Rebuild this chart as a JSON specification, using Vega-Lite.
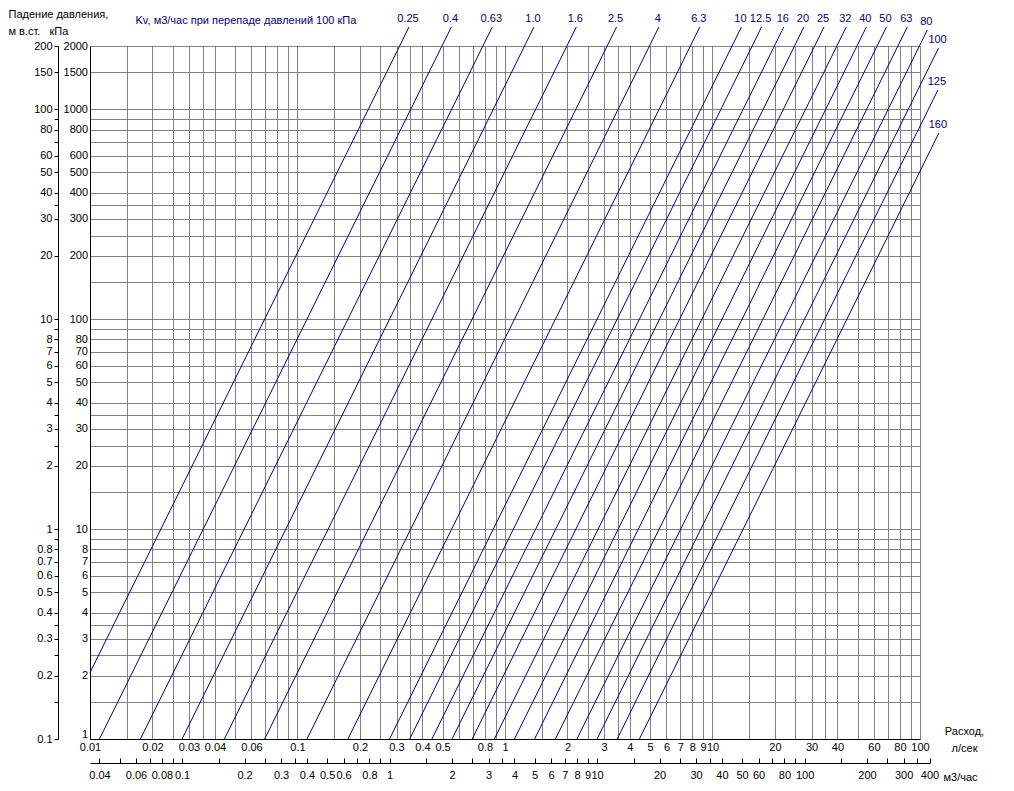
{
  "$schema": "https://vega.github.io/schema/vega-lite/v6.json",
  "width": 830,
  "height": 693,
  "autosize": {"type": "none"},
  "padding": {"left": 90, "top": 46, "right": 94, "bottom": 52},
  "background": "white",
  "config": {
    "view": {"stroke": null},
    "font": "Liberation Sans",
    "axis": {"labelFont": "Liberation Sans", "titleFont": "Liberation Sans", "labelFontSize": 11, "titleFontSize": 11, "titleFontWeight": "normal", "labelColor": "#000000", "titleColor": "#000000"}
  },
  "datasets": {
    "lines": [
      {"kv": "0.25", "q": 0.01, "dp": 2.0736}, {"kv": "0.25", "q": 0.34472, "dp": 2464},
      {"kv": "0.4", "q": 0.011111, "dp": 1}, {"kv": "0.4", "q": 0.55154, "dp": 2464},
      {"kv": "0.63", "q": 0.0175, "dp": 1}, {"kv": "0.63", "q": 0.86868, "dp": 2464},
      {"kv": "1.0", "q": 0.027778, "dp": 1}, {"kv": "1.0", "q": 1.3789, "dp": 2464},
      {"kv": "1.6", "q": 0.044444, "dp": 1}, {"kv": "1.6", "q": 2.2062, "dp": 2464},
      {"kv": "2.5", "q": 0.069444, "dp": 1}, {"kv": "2.5", "q": 3.4472, "dp": 2464},
      {"kv": "4", "q": 0.11111, "dp": 1}, {"kv": "4", "q": 5.5154, "dp": 2464},
      {"kv": "6.3", "q": 0.175, "dp": 1}, {"kv": "6.3", "q": 8.6868, "dp": 2464},
      {"kv": "10", "q": 0.27778, "dp": 1}, {"kv": "10", "q": 13.789, "dp": 2464},
      {"kv": "12.5", "q": 0.34722, "dp": 1}, {"kv": "12.5", "q": 17.236, "dp": 2464},
      {"kv": "16", "q": 0.44444, "dp": 1}, {"kv": "16", "q": 22.062, "dp": 2464},
      {"kv": "20", "q": 0.55556, "dp": 1}, {"kv": "20", "q": 27.577, "dp": 2464},
      {"kv": "25", "q": 0.69444, "dp": 1}, {"kv": "25", "q": 34.472, "dp": 2464},
      {"kv": "32", "q": 0.88889, "dp": 1}, {"kv": "32", "q": 44.124, "dp": 2464},
      {"kv": "40", "q": 1.1111, "dp": 1}, {"kv": "40", "q": 55.154, "dp": 2464},
      {"kv": "50", "q": 1.3889, "dp": 1}, {"kv": "50", "q": 68.943, "dp": 2464},
      {"kv": "63", "q": 1.75, "dp": 1}, {"kv": "63", "q": 86.868, "dp": 2464},
      {"kv": "80", "q": 2.2222, "dp": 1}, {"kv": "80", "q": 108.5, "dp": 2384},
      {"kv": "100", "q": 2.7778, "dp": 1}, {"kv": "100", "q": 122.87, "dp": 1956.6},
      {"kv": "125", "q": 3.4722, "dp": 1}, {"kv": "125", "q": 122.0, "dp": 1234.4},
      {"kv": "160", "q": 4.4444, "dp": 1}, {"kv": "160", "q": 123.34, "dp": 770.2}
    ],
    "labels": [
      {"kv": "0.25", "q": 0.34472, "dp": 2464},
      {"kv": "0.4", "q": 0.55154, "dp": 2464},
      {"kv": "0.63", "q": 0.86868, "dp": 2464},
      {"kv": "1.0", "q": 1.3789, "dp": 2464},
      {"kv": "1.6", "q": 2.2062, "dp": 2464},
      {"kv": "2.5", "q": 3.4472, "dp": 2464},
      {"kv": "4", "q": 5.5154, "dp": 2464},
      {"kv": "6.3", "q": 8.6868, "dp": 2464},
      {"kv": "10", "q": 13.789, "dp": 2464},
      {"kv": "12.5", "q": 17.236, "dp": 2464},
      {"kv": "16", "q": 22.062, "dp": 2464},
      {"kv": "20", "q": 27.577, "dp": 2464},
      {"kv": "25", "q": 34.472, "dp": 2464},
      {"kv": "32", "q": 44.124, "dp": 2464},
      {"kv": "40", "q": 55.154, "dp": 2464},
      {"kv": "50", "q": 68.943, "dp": 2464},
      {"kv": "63", "q": 86.868, "dp": 2464},
      {"kv": "80", "q": 108.5, "dp": 2384},
      {"kv": "100", "q": 122.87, "dp": 1956.6},
      {"kv": "125", "q": 122.0, "dp": 1234.4},
      {"kv": "160", "q": 123.34, "dp": 770.2}
    ],
    "m3h": [{"m3h": 0.036}, {"m3h": 400}]
  },
  "layer": [
    {
      "data": {"name": "lines"},
      "mark": {"type": "line", "color": "#000080", "strokeWidth": 1, "clip": false},
      "encoding": {
        "x": {
          "field": "q", "type": "quantitative",
          "scale": {"type": "log", "domain": [0.01, 100], "nice": false},
          "axis": {
            "orient": "bottom",
            "values": [0.01,0.015,0.02,0.025,0.03,0.035,0.04,0.05,0.06,0.07,0.08,0.09,0.1,0.15,0.2,0.25,0.3,0.35,0.4,0.5,0.6,0.7,0.8,0.9,1,1.5,2,2.5,3,3.5,4,5,6,7,8,9,10,15,20,25,30,35,40,50,60,70,80,90,100],
            "grid": true, "gridColor": "#808080", "gridWidth": 1, "gridOpacity": 1,
            "ticks": false, "domain": true, "domainColor": "#000000", "domainWidth": 1,
            "labelExpr": "indexof([0.01,0.02,0.03,0.04,0.06,0.1,0.2,0.3,0.4,0.5,0.8,1,2,3,4,5,6,7,8,9,10,20,30,40,60,80,100], datum.value) >= 0 ? format(datum.value, '~g') : ''",
            "labelPadding": 2, "labelOverlap": false, "labelFlush": false, "labelBound": false,
            "title": ["Расход,", "л/сек"], "titleX": 874, "titleY": -14, "titleAlign": "center", "titleBaseline": "top", "titleAngle": 0, "titleLineHeight": 17
          }
        },
        "y": {
          "field": "dp", "type": "quantitative",
          "scale": {"type": "log", "domain": [1, 2000], "nice": false},
          "axis": {
            "orient": "left",
            "values": [1,1.5,2,2.5,3,3.5,4,5,6,7,8,9,10,15,20,25,30,35,40,50,60,70,80,90,100,150,200,250,300,350,400,500,600,700,800,900,1000,1500,2000],
            "grid": true, "gridColor": "#808080", "gridWidth": 1, "gridOpacity": 1,
            "ticks": false, "domain": true, "domainColor": "#000000", "domainWidth": 1,
            "labelExpr": "indexof([1,2,3,4,5,6,7,8,10,20,30,40,50,60,70,80,100,200,300,400,500,600,800,1000,1500,2000], datum.value) >= 0 ? format(datum.value, '~g') : ''",
            "labelBaseline": {"condition": {"test": "datum.value == 1", "value": "bottom"}, "value": "middle"},
            "labelPadding": 2.5, "labelOverlap": false, "labelFlush": false, "labelBound": false,
            "title": ["Падение давления,", "\u00a0\u00a0\u00a0\u00a0\u00a0м в.ст.\u00a0\u00a0\u00a0кПа"], "titleX": -82, "titleY": -38, "titleAlign": "left", "titleBaseline": "top", "titleAngle": 0, "titleLineHeight": 17
          }
        },
        "detail": {"field": "kv", "type": "nominal"}
      }
    },
    {
      "data": {"name": "labels"},
      "mark": {"type": "text", "color": "#000080", "fontSize": 11, "font": "Liberation Sans", "align": "center", "baseline": "middle", "dy": -8, "dx": -1, "clip": false},
      "encoding": {
        "x": {
          "field": "q", "type": "quantitative",
          "scale": {"type": "log", "domain": [0.01, 100], "nice": false},
          "axis": {
            "orient": "top", "labels": false, "ticks": false, "domain": false, "grid": false,
            "title": "Kv, м3/час при перепаде давлений 100 кПа", "titleX": 45, "titleY": -26, "titleAlign": "left", "titleBaseline": "middle", "titleAngle": 0, "titleColor": "#000080"
          }
        },
        "y": {
          "field": "dp", "type": "quantitative",
          "scale": {"type": "log", "domain": [1, 2000], "nice": false},
          "axis": {
            "orient": "left", "offset": 32,
            "values": [1,1.5,2,2.5,3,3.5,4,5,6,7,8,9,10,20,25,30,35,40,50,60,70,80,90,100,200,300,350,400,500,600,700,800,900,1000,1500,2000],
            "grid": false, "ticks": true, "tickSize": 4, "tickColor": "#000000", "tickWidth": 1,
            "domain": true, "domainColor": "#000000", "domainWidth": 1,
            "labelExpr": "indexof([1,2,3,4,5,6,7,8,10,20,30,40,50,60,70,80,100,200,300,400,500,600,800,1000,1500,2000], datum.value) >= 0 ? format(datum.value / 10, '~g') : ''",
            "labelPadding": 2, "labelOverlap": false, "labelFlush": false, "labelBound": false,
            "title": null
          }
        },
        "text": {"field": "kv", "type": "nominal"}
      }
    },
    {
      "data": {"name": "m3h"},
      "mark": {"type": "point", "opacity": 0},
      "encoding": {
        "x": {
          "field": "m3h", "type": "quantitative",
          "scale": {"type": "log", "domain": [0.036, 400], "range": [0, 839.5], "nice": false},
          "axis": {
            "orient": "bottom", "offset": 24,
            "values": [0.04,0.05,0.06,0.07,0.08,0.09,0.1,0.15,0.2,0.25,0.3,0.35,0.4,0.5,0.6,0.7,0.8,0.9,1,1.5,2,2.5,3,3.5,4,5,6,7,8,9,10,15,20,25,30,35,40,50,60,70,80,90,100,150,200,250,300,350,400],
            "grid": false, "ticks": true, "tickSize": -5, "tickColor": "#000000", "tickWidth": 1,
            "domain": true, "domainColor": "#000000", "domainWidth": 1,
            "labelExpr": "indexof([0.04,0.06,0.08,0.1,0.2,0.3,0.4,0.5,0.6,0.8,1,2,3,4,5,6,7,8,9,10,20,30,40,50,60,80,100,200,300,400], datum.value) >= 0 ? format(datum.value, '~g') : ''",
            "labelPadding": 11, "labelOverlap": false, "labelFlush": false, "labelBound": false,
            "title": "м3/час", "titleX": 870, "titleY": 14, "titleAlign": "center", "titleBaseline": "middle", "titleAngle": 0
          }
        }
      }
    }
  ],
  "resolve": {"scale": {"x": "independent"}, "axis": {"x": "independent", "y": "independent"}}
}
